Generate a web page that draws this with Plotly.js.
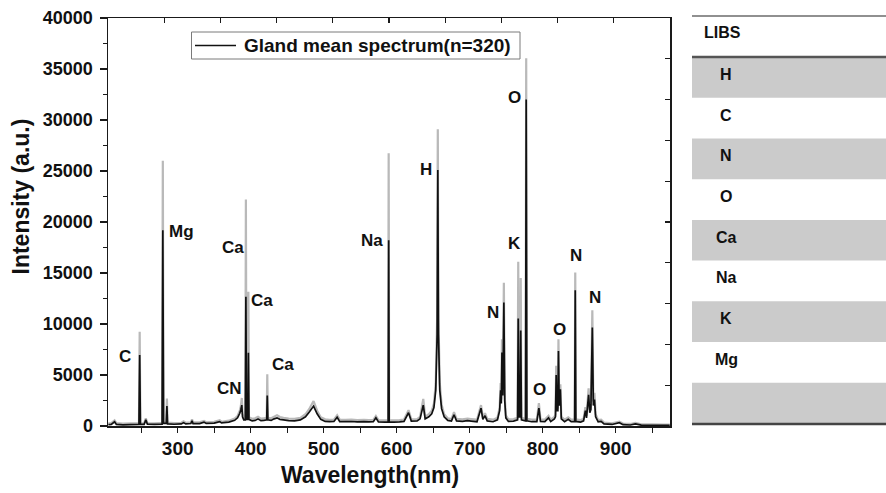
<!DOCTYPE html>
<html>
<head>
<meta charset="utf-8">
<script src="https://cdn.plot.ly/plotly-3.0.1.min.js"></script>
<style>
  html, body { margin: 0; padding: 0; background: #ffffff; }
  #chart { width: 886px; height: 493px; }
</style>
</head>
<body>
<div id="chart"></div>
<script>
// LIBS mean spectrum of gland tissue (n = 320): wavelength in nm,
// mean intensity and mean + standard deviation (upper envelope).
const wavelength = [
  205, 209, 213.5, 216, 225, 235, 246.9, 247.9, 248.9, 254, 256.3, 258.5, 268,
  278.6, 279.6, 280.6, 284.3, 285.2, 286.1, 295, 305, 308, 311, 318, 319.6, 321,
  330, 336, 339, 350, 357.5, 360, 370, 378, 382, 385, 386.5, 387.8, 388.8, 390.5,
  392.6, 393.4, 394.2, 396.1, 396.8, 397.6, 402, 406, 410, 414, 418, 421.9, 422.7,
  423.5, 428, 432, 436, 440, 445, 452, 460, 468, 475, 480, 486.1, 491, 496, 502,
  508, 514, 518.4, 522, 530, 538, 546, 555, 562, 568, 571.5, 575, 584, 588.3,
  589.0, 589.7, 596, 604, 610, 616.2, 620, 628, 632, 636.4, 639, 644, 648, 651,
  653.5, 655.4, 656.3, 657.2, 659, 661.5, 665, 670, 675, 678.5, 682, 690, 697,
  702, 710, 715.5, 718, 721, 724, 732, 738, 741, 742.4, 743.3, 744.2, 745.4,
  746.8, 748, 749.5, 753, 760, 765.6, 766.5, 767.6, 769.1, 769.9, 770.9, 776.5,
  777.4, 778.3, 785, 792, 794.8, 797, 803, 808, 811, 816, 817.5, 818.5, 819.5,
  820.8, 821.6, 822.6, 824.2, 825.5, 830, 835, 839, 843.8, 844.6, 845.4, 852,
  856, 858.5, 860, 862.9, 864.5, 866, 868.0, 869.4, 870.9, 872.5, 876, 880, 884,
  895, 905, 910, 920, 927, 935, 950, 965, 974
];
const meanIntensity = [
  130, 160, 420, 150, 120, 140, 150, 6950, 150, 160, 600, 170, 150,
  180, 19200, 250, 250, 1950, 200, 170, 200, 330, 200, 240, 520, 230,
  240, 380, 250, 280, 430, 300, 380, 560, 800, 1250, 1600, 2050, 900, 600,
  600, 12680, 650, 650, 7180, 650, 500, 550, 700, 520, 560, 600, 2980,
  600, 550, 700, 800, 650, 600, 520, 500, 600, 900, 1350, 1950, 1200, 650, 450,
  420, 450, 850, 430, 420, 440, 400, 430, 400, 420, 800, 400, 380, 380,
  18200, 380, 380, 400, 450, 1300, 480, 500, 700, 2050, 700, 900, 1200, 1800,
  3500, 9000, 25100, 9000, 3500, 1700, 900, 550, 480, 1100, 500, 450, 520,
  480, 420, 1750, 650, 1000, 500, 420, 600, 1500, 3500, 2200, 7200, 3000,
  12100, 2500, 800, 450, 480, 600, 10550, 900, 900, 9350, 600, 500,
  32000, 500, 420, 430, 1750, 450, 430, 800, 430, 700, 900, 5000, 1500,
  1500, 7350, 2000, 3600, 700, 430, 650, 420, 450, 13300, 450, 380,
  500, 1500, 800, 3050, 1300, 1600, 9650, 2000, 2600, 900, 400, 450, 200,
  150, 320, 130, 100, 200, 80, 70, 60, 60
];
const upperIntensity = [
  260, 290, 560, 280, 240, 260, 270, 9250, 270, 280, 760, 290, 270,
  300, 26000, 380, 380, 2700, 330, 290, 320, 460, 320, 360, 650, 350,
  360, 500, 370, 400, 560, 420, 520, 720, 980, 1500, 1950, 2750, 1200, 800,
  800, 22200, 850, 850, 13170, 850, 700, 760, 900, 720, 760, 800, 5070,
  800, 760, 920, 1050, 880, 800, 720, 700, 800, 1150, 1650, 2450, 1500, 850, 650,
  600, 630, 1050, 620, 600, 620, 580, 610, 580, 600, 980, 580, 560, 560,
  26750, 560, 560, 580, 640, 1550, 660, 680, 900, 2650, 920, 1150, 1500, 2200,
  4200, 10500, 29100, 10500, 4200, 2100, 1150, 760, 680, 1350, 700, 650, 720,
  680, 620, 2050, 860, 1250, 700, 620, 800, 1800, 4200, 2600, 8500, 3500,
  14050, 2900, 1050, 650, 680, 800, 16100, 1100, 1100, 14500, 800, 700,
  36050, 700, 620, 630, 2250, 650, 630, 1000, 630, 900, 1100, 5900, 1800,
  1800, 8500, 2400, 4100, 900, 630, 850, 620, 650, 15050, 650, 580,
  700, 1850, 1000, 3700, 1600, 1900, 11350, 2400, 3250, 1150, 580, 620, 330,
  260, 430, 240, 200, 300, 170, 150, 140, 140
];

// Emission-line labels and where each one sits (nm, a.u.)
const lineNames = ['C', 'Mg', 'Ca', 'Ca', 'Ca', 'CN', 'Na', 'H', 'O', 'K', 'N', 'N', 'N', 'O', 'O'];
const labelSpots = [
  [227.8, 6830], [305.2, 19115], [375.1, 17490], [415.5, 12285], [443.6, 5995],
  [371.6, 3636], [566.8, 18180], [640.8, 25160], [761.4, 32235], [760.7, 17935],
  [732.6, 11105], [845.6, 16710], [871.0, 12580], [823.0, 9435], [796.3, 3587]
];

// Element table shown beside the spectrum
const tableHeader = 'LIBS';
const tableRows = ['H', 'C', 'N', 'O', 'Ca', 'Na', 'K', 'Mg', ''];

const legendText = 'Gland mean spectrum(n=320)';

const FONT = 'Liberation Sans, Arial, Helvetica, sans-serif';
const INK = '#111111';

// plot area in pixels
const W = 886, H = 493;
const M = { l: 108, r: 216, t: 18, b: 67 };
const PW = W - M.l - M.r, PH = H - M.t - M.b;
const px = x => (x - M.l) / PW;          // pixel -> paper x
const py = y => (H - M.b - y) / PH;      // pixel -> paper y

const traces = [
  {
    x: wavelength, y: upperIntensity, type: 'scatter', mode: 'lines',
    line: { color: '#b9b9b9', width: 2.2, simplify: false },
    hoverinfo: 'skip', showlegend: false
  },
  {
    x: wavelength, y: meanIntensity, type: 'scatter', mode: 'lines',
    name: legendText,
    line: { color: INK, width: 1.7, simplify: false },
    showlegend: false
  },
  // carries the mirrored top/right frame axes
  { x: [], y: [], xaxis: 'x2', yaxis: 'y2', type: 'scatter', mode: 'lines', showlegend: false, hoverinfo: 'skip' }
];

const shapes = [];
const annotations = [];

// element labels over the peaks
lineNames.forEach((name, i) => {
  annotations.push({
    x: labelSpots[i][0], y: labelSpots[i][1], xref: 'x', yref: 'y',
    text: name, showarrow: false, xanchor: 'center', yanchor: 'middle',
    font: { family: FONT, size: 17, weight: 'bold', color: INK }
  });
});

// axis titles
annotations.push({
  x: px(369.5), y: py(475), xref: 'paper', yref: 'paper', text: 'Wavelength(nm)',
  showarrow: false, xanchor: 'center', yanchor: 'middle',
  font: { family: FONT, size: 23, weight: 'bold', color: INK }
});
annotations.push({
  x: px(20), y: py(196.5), xref: 'paper', yref: 'paper', text: 'Intensity (a.u.)',
  showarrow: false, xanchor: 'center', yanchor: 'middle', textangle: -90,
  font: { family: FONT, size: 23, weight: 'bold', color: INK }
});

// legend box
shapes.push({ type: 'rect', xref: 'paper', yref: 'paper', x0: px(191.5), x1: px(520), y0: py(59), y1: py(32),
  line: { color: '#7a7a7a', width: 1 }, fillcolor: '#ffffff' });
shapes.push({ type: 'line', xref: 'paper', yref: 'paper', x0: px(195), x1: px(236), y0: py(45.5), y1: py(45.5),
  line: { color: INK, width: 1.5 } });
annotations.push({
  x: px(242), y: py(46), xref: 'paper', yref: 'paper', text: legendText,
  showarrow: false, xanchor: 'left', yanchor: 'middle',
  font: { family: FONT, size: 19, weight: 'bold', color: INK }
});

// element table
const tX0 = 692, tX1 = 886, headTop = 16, headBot = 57, rowH = (423.5 - 57) / tableRows.length;
tableRows.forEach((label, i) => {
  const top = headBot + i * rowH, bot = top + rowH;
  if (i % 2 === 0) {
    shapes.push({ type: 'rect', xref: 'paper', yref: 'paper', x0: px(tX0), x1: px(tX1), y0: py(bot), y1: py(top),
      line: { width: 0 }, fillcolor: '#cbcbcb', layer: 'below' });
  }
  if (label) {
    annotations.push({
      x: px(726), y: py((top + bot) / 2 - 3), xref: 'paper', yref: 'paper', text: label,
      showarrow: false, xanchor: 'center', yanchor: 'middle',
      font: { family: FONT, size: 16, weight: 'bold', color: INK }
    });
  }
});
annotations.push({
  x: px(702), y: py(33), xref: 'paper', yref: 'paper', text: tableHeader,
  showarrow: false, xanchor: 'left', yanchor: 'middle',
  font: { family: FONT, size: 16, weight: 'bold', color: INK }
});
shapes.push({ type: 'line', xref: 'paper', yref: 'paper', x0: px(tX0), x1: px(tX1), y0: py(headTop), y1: py(headTop),
  line: { color: '#222222', width: 1.2 } });
shapes.push({ type: 'line', xref: 'paper', yref: 'paper', x0: px(tX0), x1: px(tX1), y0: py(headBot), y1: py(headBot),
  line: { color: '#555555', width: 2.5 } });
shapes.push({ type: 'line', xref: 'paper', yref: 'paper', x0: px(tX0), x1: px(tX1), y0: py(424), y1: py(424),
  line: { color: '#444444', width: 2.5 } });

const frameAxis = {
  showline: true, linecolor: '#1a1a1a', linewidth: 1.5, showgrid: false, zeroline: false,
  tickcolor: '#1a1a1a', tickwidth: 1.3
};

const layout = {
  width: W, height: H,
  margin: M,
  paper_bgcolor: '#ffffff', plot_bgcolor: '#ffffff',
  showlegend: false,
  font: { family: FONT, color: INK },
  xaxis: Object.assign({}, frameAxis, {
    range: [204.5, 974.4], tick0: 0, dtick: 100, ticks: 'outside', ticklen: 5,
    minor: { dtick: 50, ticks: 'outside', ticklen: 5, tickcolor: '#1a1a1a', tickwidth: 1.3 },
    tickfont: { family: FONT, size: 19, weight: 'bold', color: INK },
    ticklabelstandoff: 0
  }),
  yaxis: Object.assign({}, frameAxis, {
    range: [0, 40000], tick0: 0, dtick: 5000, ticks: 'outside', ticklen: 7, tickformat: 'd',
    minor: { dtick: 2500, ticks: 'outside', ticklen: 4, tickcolor: '#1a1a1a', tickwidth: 1.3 },
    tickfont: { family: FONT, size: 18, weight: 'bold', color: INK },
    ticklabelstandoff: 3
  }),
  xaxis2: Object.assign({}, frameAxis, {
    overlaying: 'x', side: 'top', anchor: 'y2', range: [0, 10], dtick: 1,
    ticks: 'inside', ticklen: 5, showticklabels: false
  }),
  yaxis2: Object.assign({}, frameAxis, {
    overlaying: 'y', side: 'right', anchor: 'x2', range: [0, 10], dtick: 1,
    ticks: 'inside', ticklen: 5, showticklabels: false
  }),
  shapes: shapes,
  annotations: annotations
};

Plotly.newPlot('chart', traces, layout, { staticPlot: true, displayModeBar: false });
</script>
</body>
</html>
